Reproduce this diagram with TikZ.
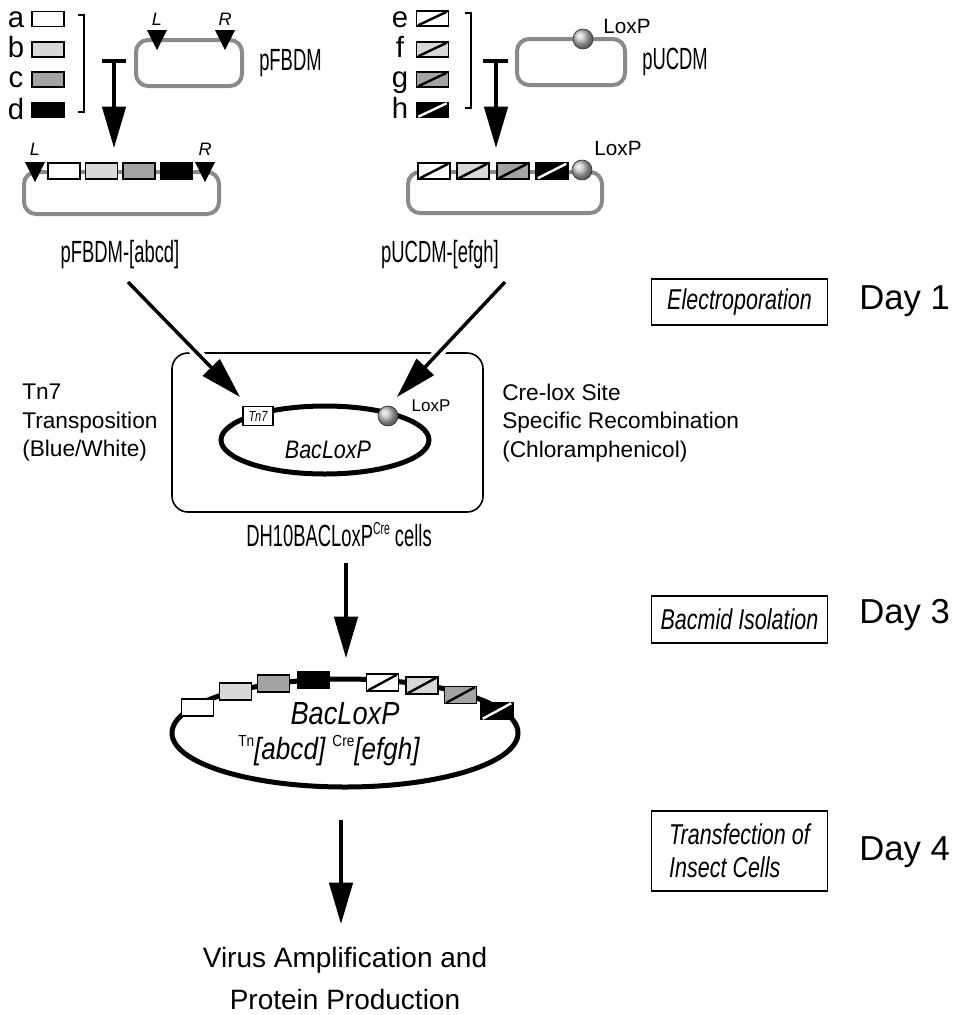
\documentclass[tikz,border=0pt]{standalone}
\usepackage{fontspec}
\setmainfont{Liberation Sans}
\newfontfamily\narrowf[FakeStretch=0.6]{Liberation Sans}
\newfontfamily\condf[FakeStretch=0.75]{Liberation Sans}
\newfontfamily\semif[FakeStretch=0.85]{Liberation Sans}
\usetikzlibrary{arrows.meta,shapes.geometric}
\definecolor{plasgray}{HTML}{8A8A8A}
\definecolor{lightg}{HTML}{D8D8D8}
\definecolor{midg}{HTML}{A3A3A3}
\def\u{0.75pt}
\newcommand\tri[2]{\fill (#1-10,#2-20) -- (#1+10,#2-20) -- (#1,#2) -- cycle;}
\newcommand\stripe[2]{\draw[line width=1.8pt,#2] ([shift={(2.5,-1.5)}]#1.south west) -- ([shift={(-2.5,1.5)}]#1.north east);}
\begin{document}
\begin{tikzpicture}[x=0.75pt,y=-0.75pt,
  plas/.style={draw=plasgray, line width=3pt, rounded corners=9pt},
  leg/.style={draw, line width=1.1pt, minimum width=32*\u, minimum height=15*\u, inner sep=0pt},
  letter/.style={inner sep=0pt, anchor=base, font=\fontsize{22pt}{24pt}\selectfont},
  lr/.style={inner sep=0pt, font=\itshape\fontsize{13.5pt}{15pt}\selectfont},
  loxlab/.style={inner sep=0pt, font=\fontsize{15.5pt}{18pt}\selectfont},
  plaslab/.style={inner sep=0pt, font=\narrowf\fontsize{23pt}{26pt}\selectfont},
  sidetext/.style={inner sep=0pt, align=left, anchor=west, font=\fontsize{17pt}{21.4pt}\selectfont},
  stagebox/.style={draw, line width=1.3pt, minimum width=176*\u, inner sep=0pt, align=left, font=\condf\itshape\fontsize{21.5pt}{24.75pt}\selectfont},
  daylab/.style={inner sep=0pt, anchor=west, font=\fontsize{26pt}{30pt}\selectfont},
  bigarrow/.style={line width=2.6pt, -{Triangle[length=31pt,width=17.5pt]}},
  halo/.style={draw=white, line width=8pt},
  loxball/.style={circle, inner sep=0pt, minimum size=20*\u, shading=ball, ball color=gray!45, draw=gray!40!black, line width=0.5pt}
]
\useasboundingbox (0,0) rectangle (954,1015);

% ---------- legend a-d ----------
\node[leg, fill=white] (ba) at (48,19) {};
\node[leg, fill=lightg] (bb) at (48,49.5) {};
\node[leg, fill=midg] (bc) at (48,79.5) {};
\node[leg, fill=black] (bd) at (48,110) {};
\node[letter] (la) at (16,27) {a};
\node[letter] (lb) at (16,57) {b};
\node[letter] (lc) at (16,87) {c};
\node[letter] (ld) at (16,119) {d};
\draw[line width=2pt] (78,15) -- (84,15) -- (84,112) -- (78,112);

% ---------- legend e-h ----------
\node[leg, fill=white] (be) at (432.5,18.5) {};
\node[leg, fill=lightg] (bf) at (432.5,49.5) {};
\node[leg, fill=midg] (bg) at (432.5,79.5) {};
\node[leg, fill=black] (bh) at (432.5,110) {};
\stripe{be}{black}
\stripe{bf}{black}
\stripe{bg}{black}
\stripe{bh}{white}
\node[letter] (le) at (400,27) {e};
\node[letter] (lf) at (400,57) {f};
\node[letter] (lg) at (400,87) {g};
\node[letter] (lh) at (400,118) {h};
\draw[line width=2pt] (465,13) -- (471,13) -- (471,108) -- (465,108);

% ---------- pFBDM ----------
\draw[plas] (136,40) rectangle (242,86);
\tri{157}{50}
\tri{225}{50}
\node[lr] (pl) at (157,19) {L};
\node[lr] (pr) at (225,19) {R};
\node[plaslab, anchor=west] (pfbdm) at (259,63) {pFBDM};

% T-arrow left
\coordinate (t1a) at (102,61);
\coordinate (t1b) at (126,61);
\coordinate (t1s) at (114,61);
\coordinate (t1e) at (114,148);
\draw[line width=2.6pt] (t1a) -- (t1b);
\draw[bigarrow] (t1s) -- (t1e);

% ---------- pFBDM-[abcd] ----------
\draw[plas] (24,172) rectangle (219,214);
\tri{35}{182}
\tri{205}{182}
\node[lr] (cl) at (35,149) {L};
\node[lr] (cr) at (205,149) {R};
\node[leg, fill=white, minimum height=16*\u] (ca) at (64,171) {};
\node[leg, fill=lightg, minimum height=16*\u] (cb) at (101.5,171) {};
\node[leg, fill=midg, minimum height=16*\u] (cc) at (139,171) {};
\node[leg, fill=black, minimum height=16*\u] (cd) at (176.5,171) {};
\node[plaslab] (lab1) at (120,255) {pFBDM-[abcd]};

% ---------- pUCDM ----------
\draw[plas] (517,39) rectangle (625,85);
\node[loxball] (ball1) at (583,39) {};
\node[loxlab] (lox1) at (627,26) {LoxP};
\node[plaslab, anchor=west] (pucdm) at (642,62) {pUCDM};

% T-arrow right
\coordinate (t2a) at (483,61);
\coordinate (t2b) at (508,61);
\coordinate (t2s) at (496,61);
\coordinate (t2e) at (496,148);
\draw[line width=2.6pt] (t2a) -- (t2b);
\draw[bigarrow] (t2s) -- (t2e);

% ---------- pUCDM-[efgh] ----------
\draw[plas] (408,172) rectangle (602,213);
\node[leg, fill=white, minimum height=16*\u] (ce) at (434,171) {};
\node[leg, fill=lightg, minimum height=16*\u] (cf) at (473,171) {};
\node[leg, fill=midg, minimum height=16*\u] (cg) at (513,171) {};
\node[leg, fill=black, minimum height=16*\u] (ch) at (552,171) {};
\stripe{ce}{black}
\stripe{cf}{black}
\stripe{cg}{black}
\stripe{ch}{white}
\node[loxball] (ball2) at (582,170) {};
\node[loxlab] (lox2) at (618,148) {LoxP};
\node[plaslab] (lab2) at (440,255) {pUCDM-[efgh]};

% ---------- stage boxes and days ----------
\node[stagebox, minimum height=46*\u] (st1) at (739.5,302) {Electroporation};
\node[daylab] (d1) at (859,301) {Day 1};
\node[stagebox, minimum height=47*\u] (st2) at (739.5,619.5) {Bacmid Isolation};
\node[daylab] (d3) at (859,615) {Day 3};
\node[stagebox, minimum height=80*\u] (st3) at (739.5,851) {Transfection of\\Insect Cells};
\node[daylab] (d4) at (859,852) {Day 4};

% ---------- cell ----------
\draw[line width=1.2pt, rounded corners=12pt] (172,353) rectangle (483,512);
\draw[line width=3.75pt] (325,440) ellipse [x radius=104, y radius=34];
\node[draw, fill=white, line width=0.9pt, minimum width=30*\u, minimum height=19*\u, inner sep=0pt, font=\condf\itshape\fontsize{11pt}{12pt}\selectfont] (tn7) at (258,416) {Tn7};
\node[loxball] (ball3) at (388,416) {};
\node[inner sep=0pt, font=\fontsize{12.75pt}{15pt}\selectfont] (lox3) at (431,406) {LoxP};
\node[inner sep=0pt, font=\semif\itshape\fontsize{19pt}{21pt}\selectfont] (bac1) at (328,450) {BacLoxP};
\node[plaslab] (dh) at (339,535) {DH10BACLoxP\raisebox{0.75ex}{\fontsize{13pt}{13pt}\selectfont Cre} cells};

\node[sidetext] (tn7txt) at (22,423) {Tn7\\Transposition\\(Blue/White)};
\node[sidetext] (cretxt) at (502,423) {Cre-lox Site\\Specific Recombination\\(Chloramphenicol)};

% arrows into the cell
\coordinate (a1s) at (128,282);
\coordinate (a1e) at (240,397);
\coordinate (a2s) at (505,282);
\coordinate (a2e) at (397,397);
\draw[halo, shorten >=30pt] (a1s) -- (a1e);
\draw[halo, shorten >=30pt] (a2s) -- (a2e);
\draw[bigarrow] (a1s) -- (a1e);
\draw[bigarrow] (a2s) -- (a2e);

% ---------- arrow to recombinant bacmid ----------
\coordinate (v1s) at (346,563);
\coordinate (v1e) at (346,658);
\draw[bigarrow] (v1s) -- (v1e);

% ---------- recombinant bacmid ----------
\draw[line width=3.75pt] (345,733) ellipse [x radius=173, y radius=54];
\node[leg, fill=white, minimum height=17*\u] (ra) at (197.5,707.5) {};
\node[leg, fill=lightg, minimum height=17*\u] (rb) at (235.5,691.5) {};
\node[leg, fill=midg, minimum height=17*\u] (rc) at (273.5,683.5) {};
\node[leg, fill=black, minimum height=17*\u] (rd) at (313.5,680) {};
\node[leg, fill=white, minimum height=17*\u] (re) at (382.5,682.5) {};
\node[leg, fill=lightg, minimum height=17*\u] (rf) at (422,685.5) {};
\node[leg, fill=midg, minimum height=17*\u] (rg) at (460.5,695) {};
\node[leg, fill=black, minimum height=17*\u] (rh) at (497,711) {};
\stripe{re}{black}
\stripe{rf}{black}
\stripe{rg}{black}
\stripe{rh}{white}
\node[inner sep=0pt, font=\semif\itshape\fontsize{24pt}{26pt}\selectfont] (bac2) at (345,714) {BacLoxP};
\node[inner sep=0pt, font=\semif\itshape\fontsize{23pt}{25pt}\selectfont] (bac2sub) at (329,751)
  {\raisebox{0.8ex}{\upshape\fontsize{12pt}{12pt}\selectfont Tn}[abcd] \raisebox{0.8ex}{\upshape\fontsize{12pt}{12pt}\selectfont Cre}[efgh]};

% ---------- final ----------
\coordinate (v2s) at (341,820);
\coordinate (v2e) at (341,924);
\draw[bigarrow] (v2s) -- (v2e);
\node[inner sep=0pt, align=center, font=\fontsize{21pt}{31.5pt}\selectfont] (virus) at (345,978) {Virus Amplification and\\Protein Production};
\end{tikzpicture}
\end{document}
